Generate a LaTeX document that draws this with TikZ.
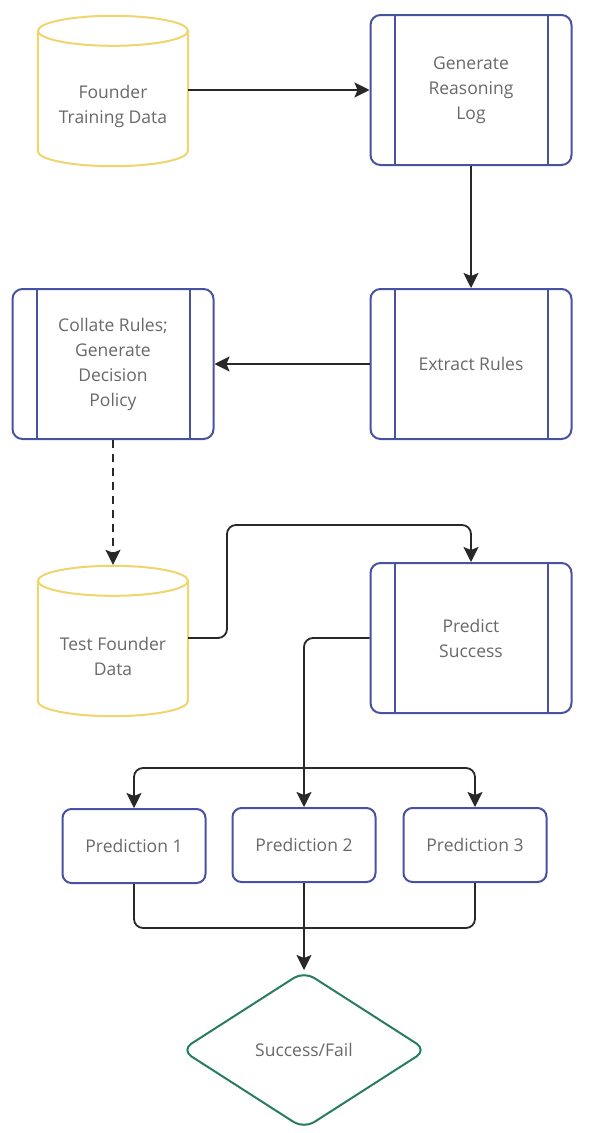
\documentclass[tikz,border=0pt]{standalone}
\usepackage{fontspec}
\setmainfont{Open Sans}
\usetikzlibrary{shapes.geometric,arrows.meta}
\definecolor{cylc}{RGB}{240,212,110}
\definecolor{procc}{RGB}{72,82,160}
\definecolor{decc}{RGB}{40,125,95}
\definecolor{txtc}{RGB}{105,105,105}
\definecolor{connc}{RGB}{40,40,40}
\newcommand{\mycyl}[1]{%
  \draw[cylline] ([yshift=15pt]#1.north west) -- ([yshift=15pt]#1.south west)
     arc[start angle=180,end angle=360,x radius=75pt,y radius=15pt]
     -- ([yshift=15pt]#1.north east);
  \draw[cylline] ([yshift=15pt]#1.north) ellipse[x radius=75pt,y radius=15pt];}
\newcommand{\myproc}[1]{%
  \draw[procline] ([xshift=25pt]#1.north west) -- ([xshift=25pt]#1.south west);
  \draw[procline] ([xshift=-25pt]#1.north east) -- ([xshift=-25pt]#1.south east);}
\begin{document}
\begin{tikzpicture}[x=1pt,y=-1pt,
  txtstyle/.style={text=txtc, font=\fontsize{17.5}{25}\selectfont, align=center},
  procbox/.style={txtstyle, draw=procc, line width=2pt, rounded corners=10pt, minimum width=201pt, minimum height=150pt, inner sep=0pt},
  predbox/.style={txtstyle, draw=procc, line width=2pt, rounded corners=9pt, minimum width=143pt, minimum height=74pt, inner sep=0pt},
  cylnode/.style={txtstyle, minimum width=150pt, minimum height=120pt, inner sep=0pt},
  cylline/.style={draw=cylc, line width=2pt},
  procline/.style={draw=procc, line width=2pt},
  decbox/.style={txtstyle, draw=decc, line width=2pt, shape=diamond, rounded corners=12pt, minimum width=246pt, minimum height=158pt, inner sep=0pt},
  conn/.style={draw=connc, line width=1.8pt, rounded corners=9pt},
  arr/.style={conn, -{Stealth[length=15pt,width=15pt,inset=3pt]}},
  dasharr/.style={arr, dash pattern=on 8pt off 6pt}
]
\useasboundingbox (0,0) rectangle (593,1133);
\fill[white] (0,0) rectangle (593,1133);

\node[cylnode] (fd) at (113,106) {Founder\\Training Data};
\mycyl{fd}
\node[cylnode] (tf) at (113,656) {Test Founder\\Data};
\mycyl{tf}

\node[procbox] (gen) at (471,90) {Generate\\Reasoning\\Log};
\myproc{gen}
\node[procbox] (ext) at (471,364) {Extract Rules};
\myproc{ext}
\node[procbox] (col) at (113,364) {Collate Rules;\\Generate\\Decision\\Policy};
\myproc{col}
\node[procbox] (pred) at (471,638) {Predict\\Success};
\myproc{pred}

\node[predbox] (p1) at (134,846) {Prediction 1};
\node[predbox] (p2) at (304,845) {Prediction 2};
\node[predbox] (p3) at (475,845) {Prediction 3};

\node[decbox] (sf) at (304,1050) {Success/Fail};

% connectors
\draw[arr] (fd.east |- gen.west) -- (gen.west);
\draw[arr] (gen.south) -- (ext.north);
\draw[arr] (ext.west) -- (col.east);
\draw[dasharr] (col.south) -- ([yshift=31pt]tf.north);

\coordinate (j1) at (227,525);
\draw[arr] (tf.east |- pred.west) -| (j1) -| (pred.north);

\coordinate (br) at (304,768);
\draw[arr] (pred.west) -| (p2.north);
\draw[arr] (br) -| (p1.north);
\draw[arr] (br) -| (p3.north);

\coordinate (mg) at (304,928);
\draw[conn] (p1.south) |- (mg);
\draw[conn] (p3.south) |- (mg);
\draw[arr] (p2.south) -- (sf.north);
\end{tikzpicture}
\end{document}
